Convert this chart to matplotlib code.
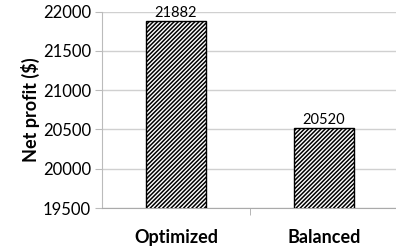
import matplotlib.pyplot as plt
import matplotlib as mpl

categories = ['Optimized', 'Balanced']
profits = [21882, 20520]
yticks = [19500, 20000, 20500, 21000, 21500, 22000]

mpl.rcParams['font.family'] = ['Lato', 'DejaVu Sans']
mpl.rcParams['hatch.linewidth'] = 1.1

fig = plt.figure(figsize=(3.96, 2.49), dpi=100)
ax = fig.add_axes([102 / 396, 1 - 208 / 249, 296 / 396, (208 - 11.7) / 249])

x = list(range(len(categories)))
bars = ax.bar(x, profits, width=0.405, color='white', edgecolor='black',
              hatch='////////', linewidth=1.0, zorder=3)
for xi, v in zip(x, profits):
    ax.text(xi, v + 15, str(v), ha='center', va='bottom', fontsize=10.5, zorder=4)

ax.set_xlim(-0.5, 1.5)
ax.set_ylim(19500, 22000)
ax.set_yticks(yticks)
ax.set_yticklabels([str(t) for t in yticks], fontsize=12)
ax.set_xticks([0.5], minor=True)
ax.set_xticks(x)
ax.set_xticklabels(categories, fontsize=13, fontweight='bold')
ax.tick_params(axis='x', which='major', length=0, pad=15)
ax.tick_params(axis='x', which='minor', length=5, color='#aaaaaa', direction='out')
ax.tick_params(axis='y', length=5, color='#bbbbbb', pad=3)
ax.grid(axis='y', color='#d0d0d0', linewidth=1.0, zorder=0)
ax.set_ylabel('Net profit ($)', fontsize=13, fontweight='bold', labelpad=2)

for s in ['top', 'right']:
    ax.spines[s].set_visible(False)
ax.spines['left'].set_color('#bbbbbb')
ax.spines['bottom'].set_color('#aaaaaa')

fig.savefig('out.png', dpi=100)
